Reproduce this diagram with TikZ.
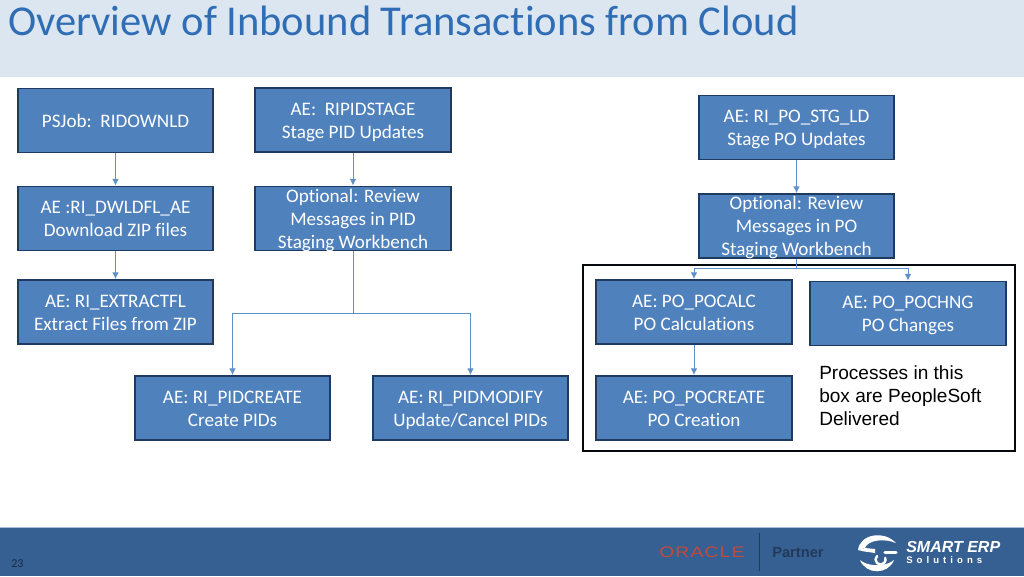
\documentclass[tikz,border=0pt]{standalone}
\usepackage{graphicx}
\usepackage{fontspec}
\setmainfont[Ligatures=NoCommon]{Carlito}
\newfontfamily\arialf{Liberation Sans}
\usetikzlibrary{arrows.meta}
\definecolor{boxfill}{HTML}{4F81BD}
\definecolor{boxline}{HTML}{1F3A5F}
\definecolor{conn}{HTML}{5F91C8}
\definecolor{headbar}{HTML}{DCE6F1}
\definecolor{titleblue}{HTML}{2F6DB5}
\definecolor{footbar}{HTML}{376092}
\definecolor{footedge}{HTML}{A6C0DC}
\definecolor{oraclered}{HTML}{C24A3C}
\definecolor{partnerc}{HTML}{22395A}
\newcommand\ps{\rule[-3.4pt]{0pt}{17.25pt}}
\tikzset{
  x=0.75pt,y=-0.75pt,
  procbox/.style={draw=boxline,line width=1.4pt,fill=boxfill,text=white,minimum width=146.5pt,minimum height=48pt,inner sep=0pt,align=center,font=\fontsize{14.35pt}{17.25pt}\selectfont,anchor=center},
  triline/.style={inner ysep=-3.75pt},
  link/.style={draw=conn,line width=0.75pt,-{Latex[length=5pt,width=5pt]}},
}
\begin{document}
\begin{tikzpicture}
\useasboundingbox (0,0) rectangle (1024,576);
\fill[white] (0,0) rectangle (1024,576);
\fill[headbar] (0,0) rectangle (1024,77);
\node[anchor=base west,inner sep=0pt,text=titleblue,font=\fontsize{31.9pt}{36pt}\selectfont] (title) at (8,35) {Overview of Inbound Transactions from Cloud};
% footer
\fill[footbar] (0,527) rectangle (1024,576);
\fill[footedge] (0,526.5) rectangle (1024,528);
\node[anchor=base west,inner sep=0pt,text=black!55!footbar,font=\fontsize{9pt}{10pt}\selectfont] (pg) at (11,567) {23};
\node[anchor=base west,inner sep=0pt,text=oraclered,font=\arialf\fontsize{11.5pt}{12pt}\selectfont] (orc) at (659,557) {\scalebox{1.26}[1]{\addfontfeature{LetterSpace=6}ORACLE}};
\fill[partnerc] (758.5,533) rectangle (760,571);
\node[anchor=base west,inner sep=0pt,text=partnerc,font=\arialf\bfseries\fontsize{11pt}{12pt}\selectfont] (prt) at (772,557) {Partner};
\begin{scope}[draw=white,line cap=round]
\fill[white] (858,550) .. controls (860,534) and (884,530) .. (896,543) .. controls (884,538) and (868,540) .. (865,548) -- cycle;
\fill[white] (858,550) .. controls (864,552) and (870,552) .. (875,553) -- (875,549) -- (865,548) -- cycle;
\draw[line width=1.8pt] (877,556) arc[start angle=225,end angle=-20,radius=5];
\draw[line width=2.4pt] (885,552.5) -- (896,552.5);
\fill[white] (860,560) .. controls (866,575) and (888,575) .. (894,560) .. controls (886,567) and (868,567) .. (860,560) -- cycle;
\end{scope}
\node[anchor=base west,inner sep=0pt,text=white,font=\arialf\bfseries\itshape\fontsize{12pt}{13pt}\selectfont] (sm) at (906,552) {SMART ERP};
\node[anchor=base west,inner sep=0pt,text=white,font=\arialf\bfseries\fontsize{7.2pt}{8pt}\selectfont] (so) at (906,563.5) {\addfontfeature{LetterSpace=42}Solutions};
% delivered box
\draw[draw=black!85!boxline,line width=1.4pt] (583,265) rectangle (1015,451);
\node[anchor=north west,inner sep=0pt,align=left,text=black,font=\arialf\fontsize{14.3pt}{17.3pt}\selectfont] (note) at (819,365) {Processes in this\\box are PeopleSoft\\Delivered};
% boxes
\node[procbox] (a1) at (115.5,120.5) {\ps PSJob:\ \ RIDOWNLD};
\node[procbox] (a2) at (115.5,218.5) {\ps AE :RI\_DWLDFL\_AE\\\ps Download ZIP files};
\node[procbox] (a3) at (115.5,312) {\ps AE: RI\_EXTRACTFL\\\ps Extract Files from ZIP};
\node[procbox] (b1) at (353,120) {\ps AE:\ \ RIPIDSTAGE\\\ps Stage PID Updates};
\node[procbox,triline] (b2) at (353,218.5) {\ps Optional: Review\\\ps Messages in PID\\\ps Staging Workbench};
\node[procbox] (c1) at (232.5,408) {\ps AE: RI\_PIDCREATE\\\ps Create PIDs};
\node[procbox] (c2) at (470.5,408) {\ps AE: RI\_PIDMODIFY\\\ps Update/Cancel PIDs};
\node[procbox] (d1) at (796.5,127.5) {\ps AE: RI\_PO\_STG\_LD\\\ps Stage PO Updates};
\node[procbox,triline] (d2) at (796.5,226) {\ps Optional: Review\\\ps Messages in PO\\\ps Staging Workbench};
\node[procbox] (e1) at (694,312) {\ps AE: PO\_POCALC\\\ps PO Calculations};
\node[procbox] (e2) at (908,313.5) {\ps AE: PO\_POCHNG\\\ps PO Changes};
\node[procbox] (e3) at (694,408) {\ps AE: PO\_POCREATE\\\ps PO Creation};
% connectors
\draw[link] (a1) -- (a2);
\draw[link] (a2) -- (a3);
\draw[link] (b1) -- (b2);
\draw[link] (b2.south) -- ++(0,62) -| (c1.north);
\draw[link] (b2.south) -- ++(0,62) -| (c2.north);
\draw[link] (d1) -- (d2);
\draw[link] (d2.south) -- ++(0,10) -| (e1.north);
\draw[link] (d2.south) -- ++(0,10) -| (e2.north);
\draw[link] (e1) -- (e3);
\end{tikzpicture}
\end{document}
